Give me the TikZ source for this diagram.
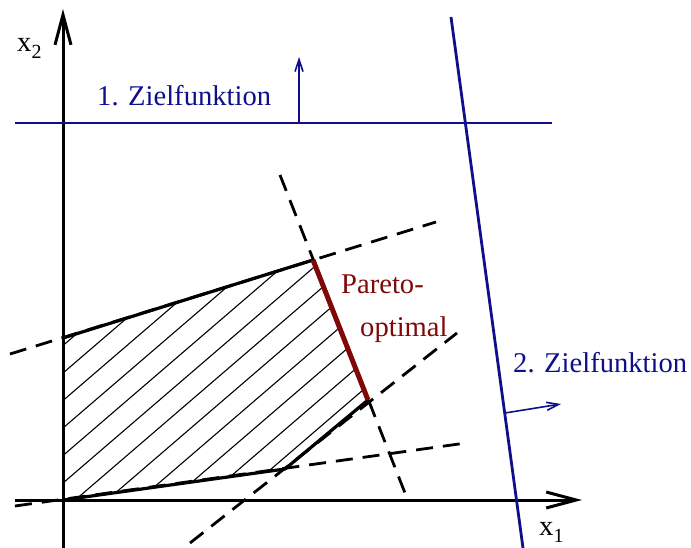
\documentclass[tikz,border=0pt]{standalone}
\usepackage{fontspec}
\setmainfont{Liberation Serif}
\usetikzlibrary{arrows.meta}
\definecolor{zblue}{RGB}{15,15,140}
\definecolor{pred}{RGB}{128,8,8}
\begin{document}
\begin{tikzpicture}[x=1pt,y=-1pt,
  axisline/.style={line width=3pt,-{Straight Barb[length=30pt,width=16pt,line width=3pt]}},
  edgeline/.style={line width=3.2pt,line join=round,line cap=round},
  hatchline/.style={line width=1.1pt},
  dashline/.style={line width=2.8pt,dash pattern=on 17pt off 10pt},
  goalline/.style={zblue,line width=2.8pt},
  goalarrow/.style={zblue,line width=1.6pt,-{Straight Barb[length=12pt,width=8pt,line width=1.6pt]}},
  lbl/.style={font=\fontsize{28.6}{32}\selectfont,inner sep=0pt,anchor=base west}]
\useasboundingbox (0,0) rectangle (691,548);

% polygon corners
\coordinate (P0) at (63,500);
\coordinate (P1) at (285,469);
\coordinate (P2) at (368,400);
\coordinate (P3) at (313,260);
\coordinate (P4) at (63,338);

% hatching
\begin{scope}
  \clip (P0) -- (P1) -- (P2) -- (P3) -- (P4) -- cycle;
  \foreach \k in {-2,...,12} {
    \draw[hatchline] (40,{392.8+27.5*\k}) -- ++(420,-361.2);
  }
\end{scope}

% dashed constraint lines
\coordinate (d1a) at (10,354);  \coordinate (d1b) at (436,222);
\coordinate (d2a) at (280,175); \coordinate (d2b) at (405,493);
\coordinate (d3a) at (190,543); \coordinate (d3b) at (457,333);
\coordinate (d4a) at (15,506);  \coordinate (d4b) at (466,443);
\draw[dashline] (d1a) -- (d1b);
\draw[dashline] (d2a) -- (d2b);
\draw[dashline] (d3a) -- (d3b);
\draw[dashline] (d4a) -- (d4b);

% feasible region edges
\draw[edgeline] (P4) -- (P3);
\draw[edgeline] (P0) -- (P1) -- (P2);
\draw[pred,line width=5pt] (P2) -- (P3);

% axes
\coordinate (xs) at (15,500);  \coordinate (xe) at (582,500);
\coordinate (ys) at (63,548);  \coordinate (ye) at (63,9);
\draw[axisline] (xs) -- (xe);
\draw[axisline] (ys) -- (ye);
\node[lbl] (xlab) at (539,535) {x\raisebox{-7pt}{\fontsize{20}{20}\selectfont 1}};
\node[lbl] (ylab) at (17,52) {x\raisebox{-7pt}{\fontsize{20}{20}\selectfont 2}};

% objective functions
\coordinate (h1) at (15,123);  \coordinate (h2) at (552,123);
\coordinate (s1) at (451,17);  \coordinate (s2) at (523,548);
\draw[goalline] (h1) -- (h2);
\draw[goalline] (s1) -- (s2);
\coordinate (a1s) at (299,123); \coordinate (a1e) at (299,57);
\coordinate (a2s) at (505,413); \coordinate (a2e) at (561,404);
\draw[goalarrow] (a1s) -- (a1e);
\draw[goalarrow] (a2s) -- (a2e);
\node[lbl,text=zblue] (z1) at (97,106) {1. Zielfunktion};
\node[lbl,text=zblue] (z2) at (513,372) {2. Zielfunktion};

% Pareto label
\node[lbl,text=pred] (par1) at (341,294) {Pareto-};
\node[lbl,text=pred] (par2) at (360,336) {optimal};
\end{tikzpicture}
\end{document}
